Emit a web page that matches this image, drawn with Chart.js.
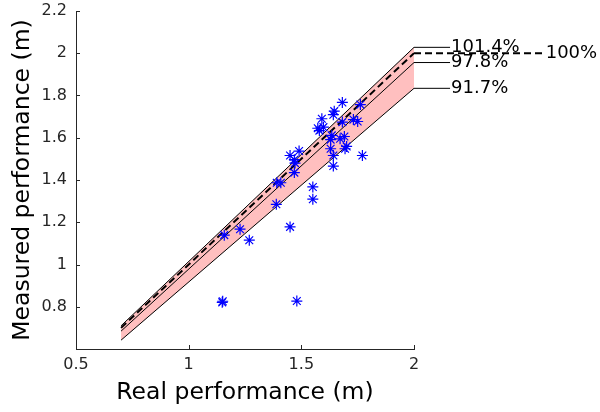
<!DOCTYPE html>
<html>
<head>
<meta charset="utf-8">
<script src="https://cdn.jsdelivr.net/npm/chart.js@4/dist/chart.umd.min.js"></script>
<style>
  html, body { margin: 0; padding: 0; background: #fff; }
  #wrap { width: 600px; height: 412px; position: relative; }
</style>
</head>
<body>
<div id="wrap"><canvas id="c" width="600" height="412"></canvas></div>
<script>
// ---- data ----
const realPerf = [1.682, 1.762, 1.646, 1.642, 1.591, 1.682, 1.731, 1.750, 1.573, 1.598,
                  1.580, 1.635, 1.691, 1.672, 1.630, 1.630, 1.694, 1.701, 1.771, 1.642,
                  1.642, 1.450, 1.490, 1.469, 1.472, 1.469, 1.391, 1.409, 1.551, 1.551,
                  1.389, 1.450, 1.228, 1.158, 1.269, 1.149, 1.151, 1.480];
const measuredPerf = [1.767, 1.757, 1.726, 1.709, 1.690, 1.674, 1.686, 1.677, 1.645, 1.650,
                      1.634, 1.611, 1.606, 1.595, 1.591, 1.548, 1.548, 1.559, 1.516, 1.516,
                      1.466, 1.516, 1.537, 1.496, 1.480, 1.435, 1.387, 1.387, 1.367, 1.309,
                      1.285, 1.178, 1.167, 1.139, 1.115, 0.821, 0.826, 0.827];
const refFactors = [1.014, 1.000, 0.978, 0.917];
const refLabels = ['101.4%', '100%', '97.8%', '91.7%'];
const lineStartX = 0.7;
const lineEndX = 2.0;
const leaderEndX = [2.16, 2.58, 2.16, 2.16];
const xTicks = [0.5, 1, 1.5, 2];
const yTicks = [0.8, 1, 1.2, 1.4, 1.6, 1.8, 2, 2.2];

// ---- build datasets ----
function refLine(f) {
  return [{x: lineStartX, y: lineStartX * f}, {x: lineEndX, y: lineEndX * f}];
}

const datasets = [
  // band
  {type: 'line', data: refLine(refFactors[0]), borderWidth: 0, pointRadius: 0,
   backgroundColor: 'rgba(255,0,0,0.25)', fill: '+1', order: 10},
  {type: 'line', data: refLine(refFactors[3]), borderWidth: 0, pointRadius: 0,
   backgroundColor: 'rgba(0,0,0,0)', fill: false, order: 10},
  // reference lines
  {type: 'line', data: refLine(refFactors[0]), borderColor: '#000', borderWidth: 1, pointRadius: 0, fill: false, tension: 0, order: 5},
  {type: 'line', data: refLine(refFactors[2]), borderColor: '#000', borderWidth: 1, pointRadius: 0, fill: false, tension: 0, order: 5},
  {type: 'line', data: refLine(refFactors[3]), borderColor: '#000', borderWidth: 1, pointRadius: 0, fill: false, tension: 0, order: 5},
  {type: 'line', data: refLine(refFactors[1]), borderColor: '#000', borderWidth: 2, borderDash: [7, 4], pointRadius: 0, fill: false, tension: 0, order: 4},
  // scatter
  {type: 'scatter', data: realPerf.map((x, i) => ({x: x, y: measuredPerf[i]})),
   pointStyle: 'star', pointRadius: 5.5, borderColor: '#0000ff', backgroundColor: '#0000ff',
   borderWidth: 1.2, order: 1}
];

const labelPlugin = {
  id: 'refLabels',
  afterDatasetsDraw(chart) {
    const ctx = chart.ctx;
    const xs = chart.scales.x, ys = chart.scales.y;
    ctx.save();
    // leader lines outside the plot area
    refFactors.forEach((f, i) => {
      const x0 = xs.getPixelForValue(lineEndX);
      const x1 = xs.getPixelForValue(leaderEndX[i]);
      const py = ys.getPixelForValue(lineEndX * f);
      ctx.beginPath();
      ctx.strokeStyle = '#000';
      if (i === 1) { ctx.lineWidth = 2; ctx.setLineDash([7, 4]); }
      else { ctx.lineWidth = 1; ctx.setLineDash([]); }
      ctx.moveTo(x0, py); ctx.lineTo(x1, py); ctx.stroke();
    });
    ctx.setLineDash([]);
    ctx.font = '18px "DejaVu Sans"';
    ctx.fillStyle = '#000';
    ctx.textBaseline = 'middle';
    ctx.textAlign = 'left';
    refLabels.forEach((lab, i) => {
      const px = xs.getPixelForValue(leaderEndX[i]) + 1;
      const py = ys.getPixelForValue(lineEndX * refFactors[i]);
      ctx.fillText(lab, px, py);
    });
    // inward tick marks
    ctx.strokeStyle = '#262626';
    ctx.lineWidth = 1;
    const a = chart.chartArea;
    xTicks.forEach(v => {
      const px = Math.round(xs.getPixelForValue(v)) + 0.5;
      ctx.beginPath(); ctx.moveTo(px, a.bottom); ctx.lineTo(px, a.bottom - 4); ctx.stroke();
    });
    yTicks.forEach(v => {
      const py = Math.round(ys.getPixelForValue(v)) + 0.5;
      ctx.beginPath(); ctx.moveTo(a.left, py); ctx.lineTo(a.left + 4, py); ctx.stroke();
    });
    ctx.restore();
  }
};

const fmt = v => String(Number(Number(v).toFixed(2)));

new Chart(document.getElementById('c'), {
  type: 'scatter',
  data: {datasets: datasets},
  plugins: [labelPlugin],
  options: {
    responsive: false,
    animation: false,
    devicePixelRatio: 1,
    layout: {padding: {top: 11, right: 186, left: 0, bottom: 0}},
    plugins: {legend: {display: false}, tooltip: {enabled: false}},
    scales: {
      x: {
        type: 'linear', min: 0.5, max: 2,
        afterFit: s => { s.height = 63; s.paddingLeft = 0; s.paddingRight = 0; },
        afterBuildTicks: s => { s.ticks = xTicks.map(v => ({value: v})); },
        grid: {display: false, drawTicks: false},
        border: {display: true, color: '#262626', width: 1},
        ticks: {color: '#262626', font: {family: 'DejaVu Sans', size: 16}, padding: 6, callback: fmt, maxRotation: 0, autoSkip: false},
        title: {display: true, text: 'Real performance (m)', color: '#000', font: {family: 'DejaVu Sans', size: 23.5}, padding: {top: 0, bottom: 5}}
      },
      y: {
        type: 'linear', min: 0.6, max: 2.2,
        afterFit: s => { s.width = 76; s.paddingTop = 0; s.paddingBottom = 0; },
        afterBuildTicks: s => { s.ticks = yTicks.map(v => ({value: v})); },
        grid: {display: false, drawTicks: false},
        border: {display: true, color: '#262626', width: 1},
        ticks: {color: '#262626', font: {family: 'DejaVu Sans', size: 16}, padding: 9, callback: fmt, autoSkip: false},
        title: {display: true, text: 'Measured performance (m)', color: '#000', font: {family: 'DejaVu Sans', size: 23.5}, padding: {top: 9, bottom: 0}}
      }
    }
  }
});
</script>
</body>
</html>
